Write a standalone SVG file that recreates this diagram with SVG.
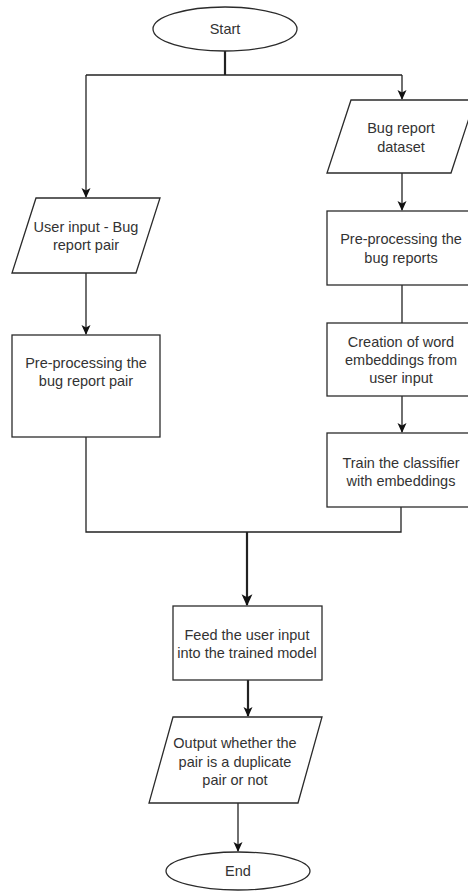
<svg xmlns="http://www.w3.org/2000/svg" width="468" height="892" viewBox="0 0 468 892">
  <style>
    .shape { fill: #ffffff; stroke: #2b2b2b; stroke-width: 1.3; }
    .label { font-family: "Liberation Sans", Arial, sans-serif; font-size: 14.5px; fill: #333333; text-anchor: middle; }
    .conn { fill: none; stroke: #222222; stroke-width: 1.3; }
    .thick { stroke-width: 2.2; }
  </style>
  <defs>
    <marker id="arrow" viewBox="0 0 10 10" refX="9" refY="5" markerWidth="10" markerHeight="10" markerUnits="userSpaceOnUse" orient="auto">
      <path d="M0,0.5 L10,5 L0,9.5 L2.5,5 Z" fill="#111111"/>
    </marker>
    <marker id="arrowBig" viewBox="0 0 10 10" refX="9" refY="5" markerWidth="12" markerHeight="12" markerUnits="userSpaceOnUse" orient="auto">
      <path d="M0,0.5 L10,5 L0,9.5 L2.5,5 Z" fill="#111111"/>
    </marker>
  </defs>
  <rect width="468" height="892" fill="#ffffff"/>

  <g id="connectors">
    <line class="conn thick" x1="225" y1="51" x2="225" y2="75"/>
    <line class="conn" x1="86" y1="75" x2="402" y2="75"/>
    <line class="conn" x1="86" y1="75" x2="86" y2="197" marker-end="url(#arrow)"/>
    <line class="conn" x1="402" y1="75" x2="402" y2="99" marker-end="url(#arrow)"/>
    <line class="conn" x1="86" y1="273" x2="86" y2="334" marker-end="url(#arrow)"/>
    <line class="conn" x1="402" y1="173" x2="402" y2="210" marker-end="url(#arrow)"/>
    <line class="conn" x1="402" y1="285" x2="402" y2="323"/>
    <line class="conn" x1="402" y1="396" x2="402" y2="432" marker-end="url(#arrow)"/>
    <polyline class="conn" points="86,437 86,532 401,532 401,507"/>
    <line class="conn thick" x1="247" y1="532" x2="247" y2="605" marker-end="url(#arrowBig)"/>
    <line class="conn thick" x1="248" y1="680" x2="248" y2="716" marker-end="url(#arrow)"/>
    <line class="conn" x1="238" y1="803" x2="238" y2="851" marker-end="url(#arrow)"/>
  </g>

  <g id="start">
    <ellipse class="shape" cx="225" cy="29" rx="72" ry="22"/>
    <text class="label" x="225" y="34">Start</text>
  </g>

  <g id="user-input">
    <polygon class="shape" points="36,198 160,198 136,273 12,273"/>
    <text class="label" x="86" y="232">User input - Bug</text>
    <text class="label" x="86" y="250">report pair</text>
  </g>

  <g id="preprocess-pair">
    <rect class="shape" x="12" y="335" width="148" height="102"/>
    <text class="label" x="86" y="368">Pre-processing the</text>
    <text class="label" x="86" y="386">bug report pair</text>
  </g>

  <g id="dataset">
    <polygon class="shape" points="351,100 475,100 451,173 327,173"/>
    <text class="label" x="401" y="133">Bug report</text>
    <text class="label" x="401" y="152">dataset</text>
  </g>

  <g id="preprocess-reports">
    <rect class="shape" x="327" y="211" width="150" height="74"/>
    <text class="label" x="401" y="244">Pre-processing the</text>
    <text class="label" x="401" y="263">bug reports</text>
  </g>

  <g id="word-embeddings">
    <rect class="shape" x="327" y="323" width="150" height="73"/>
    <text class="label" x="401" y="347">Creation of word</text>
    <text class="label" x="401" y="365">embeddings from</text>
    <text class="label" x="401" y="383">user input</text>
  </g>

  <g id="train-classifier">
    <rect class="shape" x="327" y="433" width="150" height="74"/>
    <text class="label" x="401" y="468">Train the classifier</text>
    <text class="label" x="401" y="486">with embeddings</text>
  </g>

  <g id="feed-model">
    <rect class="shape" x="173" y="606" width="149" height="74"/>
    <text class="label" x="247" y="640">Feed the user input</text>
    <text class="label" x="247" y="658">into the trained model</text>
  </g>

  <g id="output">
    <polygon class="shape" points="173,717 322,717 298,803 149,803"/>
    <text class="label" x="235" y="748">Output whether the</text>
    <text class="label" x="235" y="767">pair is a duplicate</text>
    <text class="label" x="235" y="785">pair or not</text>
  </g>

  <g id="end">
    <ellipse class="shape" cx="238" cy="871" rx="72" ry="19"/>
    <text class="label" x="238" y="876">End</text>
  </g>
</svg>
